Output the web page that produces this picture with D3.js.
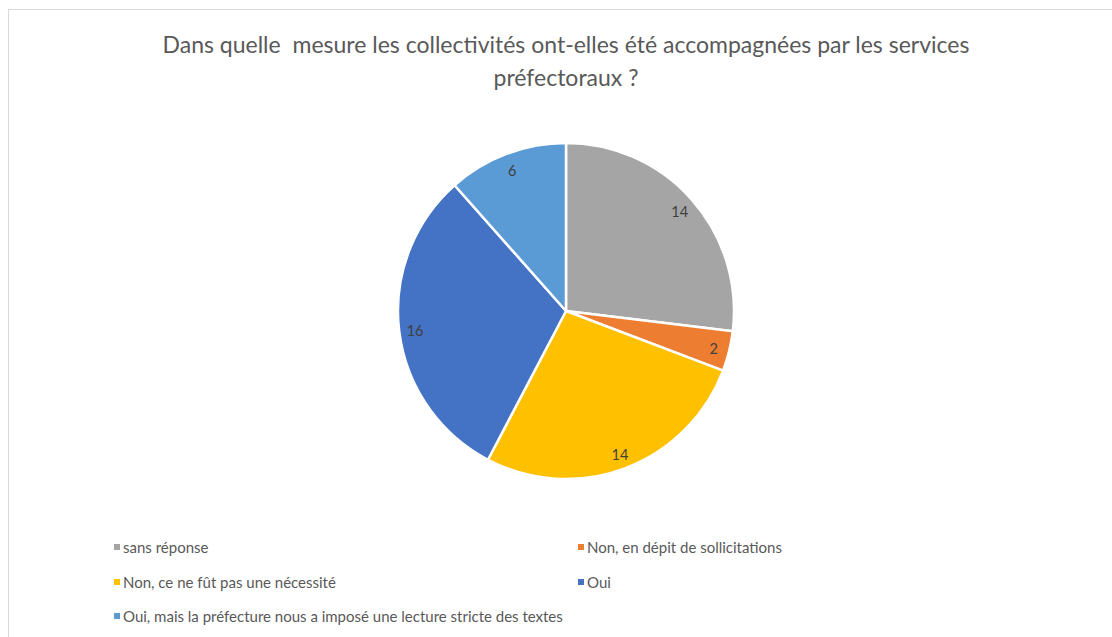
<!DOCTYPE html>
<html>
<head>
<meta charset="utf-8">
<script src="https://cdn.jsdelivr.net/npm/d3@7/dist/d3.min.js"></script>
<style>
  html, body { margin: 0; padding: 0; background: #fff; }
  svg { display: block; }
</style>
</head>
<body>
<svg id="chart" width="1112" height="637"></svg>
<script>
// Réponses à la question sur l'accompagnement préfectoral
const categories = [
  "sans réponse",
  "Non, en dépit de sollicitations",
  "Non, ce ne fût pas une nécessité",
  "Oui",
  "Oui, mais la préfecture nous a imposé une lecture stricte des textes"
];
const counts = [14, 2, 14, 16, 6];
const colors = ["#A5A5A5", "#ED7D31", "#FFC000", "#4472C4", "#5B9BD5"];
const titleLines = [
  "Dans quelle  mesure les collectivités ont-elles été accompagnées par les services",
  "préfectoraux ?"
];

const W = 1112, H = 637;
const font = "Lato, 'Open Sans', sans-serif";
const svg = d3.select("#chart");

// Cadre du graphique
svg.append("rect")
  .attr("x", 8.5).attr("y", 9.5)
  .attr("width", W + 10).attr("height", H + 10)
  .attr("fill", "#fff")
  .attr("stroke", "#d9d9d9")
  .attr("stroke-width", 1);

// Titre
svg.append("g").selectAll("text")
  .data(titleLines)
  .join("text")
  .attr("x", 566)
  .attr("y", (d, i) => 53 + i * 33)
  .attr("text-anchor", "middle")
  .attr("font-family", font)
  .attr("font-size", 23)
  .attr("fill", "#595959")
  .style("white-space", "pre")
  .text(d => d);

// Camembert
const cx = 566, cy = 311, r = 168;
const data = categories.map((c, i) => ({ name: c, value: counts[i], color: colors[i] }));
const pie = d3.pie().value(d => d.value).sort(null);
const arc = d3.arc().innerRadius(0).outerRadius(r);
const labelArc = d3.arc().innerRadius(152).outerRadius(152);

const g = svg.append("g").attr("transform", `translate(${cx},${cy})`);
const arcs = pie(data);

g.selectAll("path")
  .data(arcs)
  .join("path")
  .attr("d", arc)
  .attr("fill", d => d.data.color)
  .attr("stroke", "#fff")
  .attr("stroke-width", 2.5)
  .attr("stroke-linejoin", "round");

g.selectAll("text")
  .data(arcs)
  .join("text")
  .attr("transform", d => `translate(${labelArc.centroid(d)})`)
  .attr("text-anchor", "middle")
  .attr("y", 2)
  .attr("dy", "0.35em")
  .attr("font-family", font)
  .attr("font-size", 14.5)
  .attr("fill", "#404040")
  .text(d => d.data.value);

// Légende
const legendPos = [
  [114, 548], [578, 548],
  [114, 583], [578, 583],
  [114, 617]
];
const leg = svg.append("g").selectAll("g")
  .data(data)
  .join("g")
  .attr("transform", (d, i) => `translate(${legendPos[i][0]},${legendPos[i][1]})`);

leg.append("rect")
  .attr("x", 0).attr("y", -4)
  .attr("width", 6).attr("height", 6)
  .attr("fill", d => d.color);

leg.append("text")
  .attr("x", 9)
  .attr("dy", "0.35em")
  .attr("font-family", font)
  .attr("font-size", 15)
  .attr("fill", "#595959")
  .text(d => d.name);
</script>
</body>
</html>
